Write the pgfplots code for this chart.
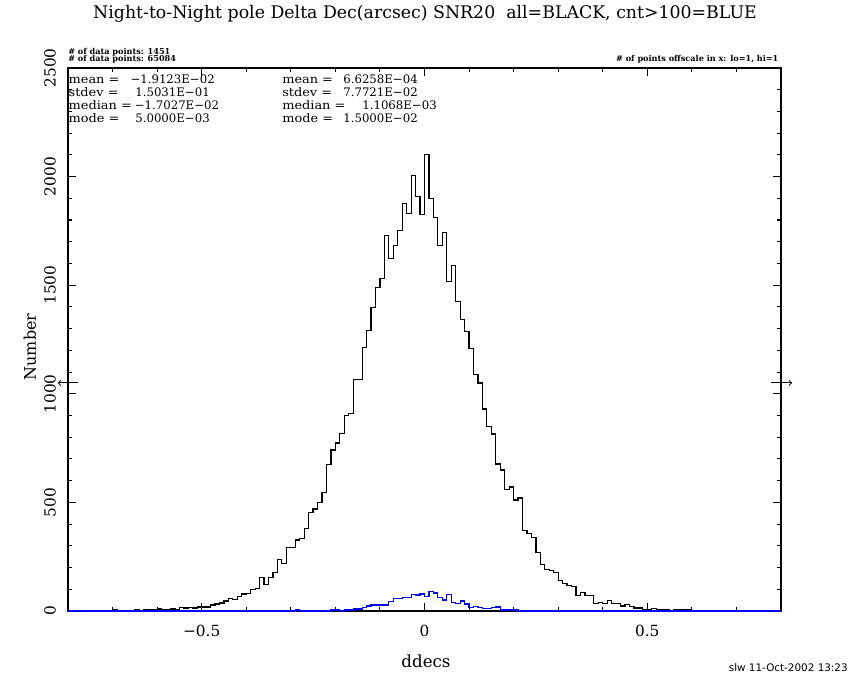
\documentclass[border=0pt]{standalone}
\usepackage{fontspec}
\setmainfont{DejaVu Serif}
\newfontfamily\footfont{DejaVu Sans}
\newfontfamily\widefont[FakeStretch=1.1]{DejaVu Serif}
\usepackage{pgfplots}
\pgfplotsset{compat=1.18}
\begin{document}
\begin{tikzpicture}[x=1pt,y=1pt]
\useasboundingbox (0,0) rectangle (637.5,510);
\begin{axis}[
  scale only axis,
  width=534.75pt, height=407.25pt,
  at={(51pt,51.75pt)}, anchor=south west,
  xmin=-0.8, xmax=0.8, ymin=0, ymax=2500,
  clip=false,
  axis line style={line width=0.8pt},
  every tick/.style={line width=0.8pt, black},
  tick align=inside,
  major tick length=6pt, minor tick length=3pt,
  xtick={-0.5,0,0.5}, xticklabels={−0.5,0,0.5},
  minor xtick={-0.7,-0.6,-0.4,-0.3,-0.2,-0.1,0.1,0.2,0.3,0.4,0.6,0.7},
  ytick={0,500,1000,1500,2000,2500},
  yticklabels={0,500,1000,1500,2000,2500},
  minor ytick={100,200,300,400,600,700,800,900,1100,1200,1300,1400,1600,1700,1800,1900,2100,2200,2300,2400},
  ticklabel style={font=\fontsize{11.5}{12}\selectfont, inner sep=0pt},
  xticklabel style={anchor=north},
  xticklabel shift=10.5pt,
  yticklabel style={rotate=90, anchor=south},
  yticklabel shift=9pt,
]
\addplot[const plot mark left, black, line width=0.9pt] coordinates {
(-0.80,0) (-0.70,6) (-0.69,0) (-0.65,6) (-0.64,0) (-0.63,5) (-0.60,9) (-0.59,5)
(-0.57,9) (-0.56,5) (-0.55,17) (-0.54,14) (-0.53,17) (-0.52,14) (-0.51,18) (-0.48,28)
(-0.47,32) (-0.46,37) (-0.45,46) (-0.44,58) (-0.43,52) (-0.42,68) (-0.41,78) (-0.40,80)
(-0.39,100) (-0.38,105) (-0.37,154) (-0.36,123) (-0.35,154) (-0.34,177) (-0.33,237) (-0.32,219)
(-0.31,291) (-0.30,291) (-0.29,327) (-0.28,333) (-0.27,378) (-0.26,455) (-0.25,470) (-0.24,498)
(-0.23,544) (-0.22,673) (-0.21,741) (-0.20,773) (-0.19,816) (-0.18,901) (-0.17,908) (-0.16,1064)
(-0.15,1064) (-0.14,1212) (-0.13,1290) (-0.12,1396) (-0.11,1490) (-0.10,1531) (-0.09,1728) (-0.08,1624)
(-0.07,1682) (-0.06,1753) (-0.05,1876) (-0.04,1831) (-0.03,2006) (-0.02,1908) (-0.01,1825) (0.00,2102)
(0.01,1899) (0.02,1811) (0.03,1682) (0.04,1742) (0.05,1518) (0.06,1590) (0.07,1424) (0.08,1341)
(0.09,1285) (0.10,1207) (0.11,1087) (0.12,1050) (0.13,930) (0.14,849) (0.15,815) (0.16,677)
(0.17,649) (0.18,561) (0.19,571) (0.20,511) (0.21,520) (0.22,372) (0.23,358) (0.24,340)
(0.25,269) (0.26,215) (0.27,192) (0.28,188) (0.29,178) (0.30,142) (0.31,128) (0.32,116)
(0.33,114) (0.34,71) (0.35,86) (0.36,71) (0.38,35) (0.39,38) (0.40,35) (0.41,49)
(0.42,35) (0.44,23) (0.45,29) (0.46,20) (0.47,14) (0.49,6) (0.51,11) (0.52,5)
(0.55,0) (0.56,5) (0.60,0) (0.80,0)
};
\addplot[const plot mark left, blue, line width=0.9pt] coordinates {
(-0.80,0) (-0.29,5) (-0.28,0) (-0.21,5) (-0.19,0) (-0.18,5) (-0.16,9) (-0.14,15)
(-0.13,23) (-0.12,28) (-0.08,43) (-0.07,58) (-0.05,63) (-0.03,77) (-0.02,74) (-0.01,78)
(0.00,65) (0.01,88) (0.02,83) (0.03,63) (0.04,51) (0.05,75) (0.06,40) (0.07,35)
(0.08,46) (0.09,32) (0.10,15) (0.11,22) (0.12,15) (0.13,12) (0.15,15) (0.16,18)
(0.17,5) (0.21,0) (0.80,0)
};
\draw[->, line width=0.7pt] (axis cs:-0.778,1050) -- (axis cs:-0.823,1050);
\draw[->, line width=0.7pt] (axis cs:0.778,1050) -- (axis cs:0.825,1050);
\end{axis}
% title
\node[anchor=base, font=\fontsize{13}{14}\selectfont] at (318.75,495.75)
  {Night-to-Night pole Delta Dec(arcsec) SNR20\ \ all=BLACK, cnt>100=BLUE};
% axis labels
\node[rotate=90, anchor=center, font=\fontsize{12}{14}\selectfont] at (22.5,249.75) {Number};
\node[anchor=center, font=\fontsize{12.5}{14}\selectfont] at (319.5,14.25) {ddecs};
% small info
\node[anchor=base west, inner sep=0pt, font=\fontsize{6.1}{6.5}\selectfont\bfseries] at (51,468.75) {\# of data points: 1451};
\node[anchor=base west, inner sep=0pt, font=\fontsize{6.1}{6.5}\selectfont\bfseries] at (51,463.9) {\# of data points: 65084};
\node[anchor=base east, inner sep=0pt, font=\fontsize{6.1}{6.5}\selectfont\bfseries] at (584,463.5) {\# of points offscale in x: lo=1, hi=1};
% stats
\begin{scope}[every node/.style={inner sep=0pt, font=\fontsize{8.8}{9.6}\selectfont},
  lab/.style={anchor=base west, font=\widefont\fontsize{8.8}{9.6}\selectfont},
  num/.style={anchor=base east}]
% column 1
\node[lab] at (51.3,447) {mean =};     \node[num] at (161.25,447) {−1.9123E−02};
\node[lab] at (51.3,437.5) {stdev =};  \node[num] at (157.5,437.5) {1.5031E−01};
\node[lab] at (51.3,428) {median =};   \node[num] at (164.5,428) {−1.7027E−02};
\node[lab] at (51.3,418.3) {mode =};   \node[num] at (157.5,418.3) {5.0000E−03};
% column 2
\node[lab] at (211.5,447) {mean =};    \node[num] at (313.5,447) {6.6258E−04};
\node[lab] at (211.5,437.5) {stdev =}; \node[num] at (313.5,437.5) {7.7721E−02};
\node[lab] at (211.5,428) {median =};  \node[num] at (327.75,428) {1.1068E−03};
\node[lab] at (211.5,418.3) {mode =};  \node[num] at (313.5,418.3) {1.5000E−02};
\end{scope}
% footer
\node[anchor=base east, inner sep=0pt, font=\footfont\fontsize{7.8}{9}\selectfont] at (636,6) {slw 11-Oct-2002 13:23};
\end{tikzpicture}
\end{document}
